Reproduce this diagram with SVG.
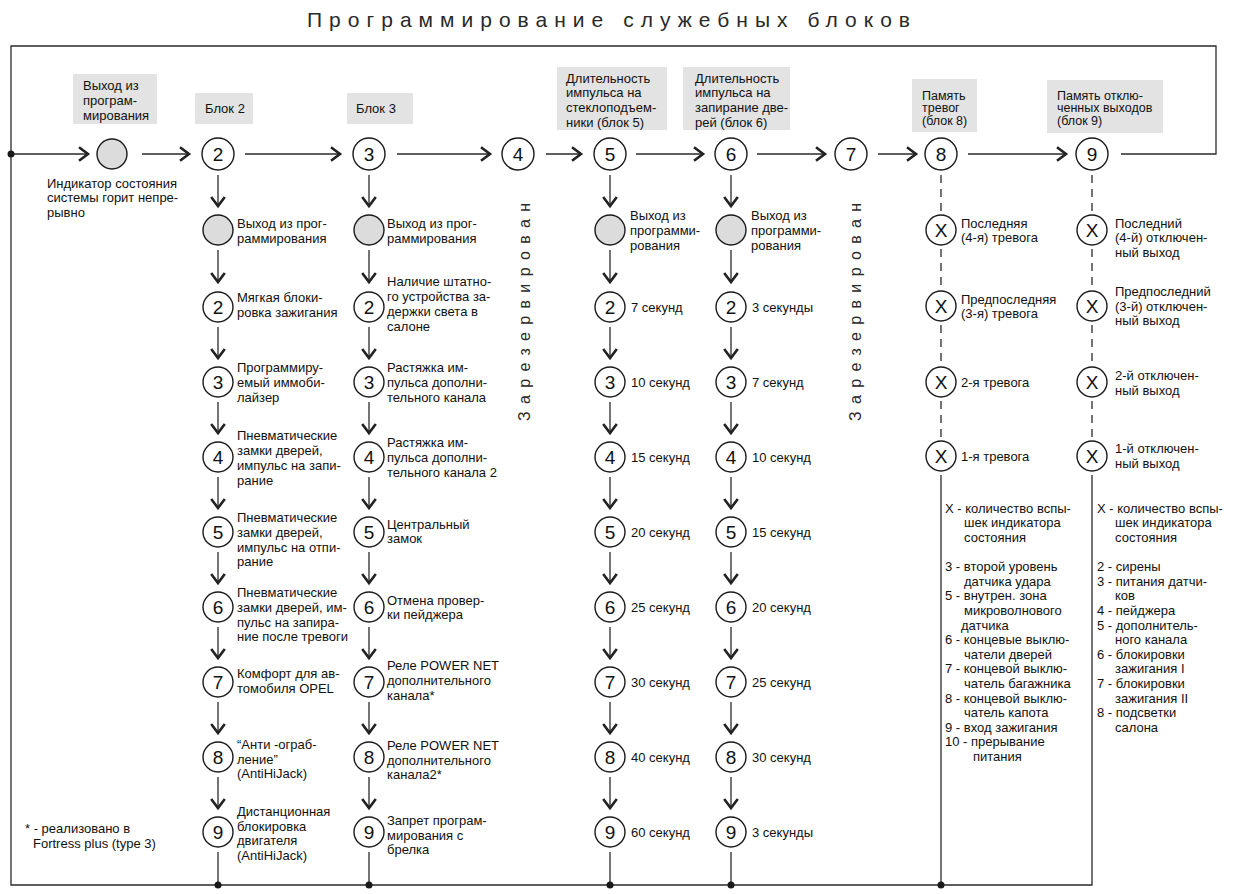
<svg xmlns="http://www.w3.org/2000/svg" width="1250" height="894" viewBox="0 0 1250 894">
<style>
text{font-family:"Liberation Sans",Arial,sans-serif;fill:#111}
.t{font-size:13px}
.s{font-size:12.5px}
.n{font-size:19px;text-anchor:middle}
.title{font-size:21px;fill:#2a2a2a}
.res{font-size:16px;text-anchor:middle;fill:#2a2a2a}
.ln{stroke:#2a2a2a;stroke-width:1.3;fill:none}
.ar{stroke:#2a2a2a;stroke-width:1.3;fill:none;marker-end:url(#arr)}
.ds{stroke:#2a2a2a;stroke-width:1.3;fill:none;stroke-dasharray:8 6}
.c{fill:#fff;stroke:#1a1a1a;stroke-width:1.4}
.g{fill:#dcdcdc;stroke:#1a1a1a;stroke-width:1.4}
.box{fill:#e3e3e3}
.dot{fill:#1a1a1a}
</style>
<defs>
<marker id="arr" markerUnits="userSpaceOnUse" markerWidth="24" markerHeight="24" viewBox="-12 -12 24 24" refX="0" refY="0" orient="auto" overflow="visible">
<path d="M-9,-6.8 L0,0 L-9,6.8" fill="none" stroke="#222" stroke-width="2.6"/>
</marker>
</defs>
<rect width="1250" height="894" fill="#fff"/>
<text class="title" x="307" y="27" textLength="603" lengthAdjust="spacing">Программирование служебных блоков</text>

<g id="connectors">
<polyline class="ln" points="1121,154 1216,154 1216,46 11,46 11,885 1092,885 1092,475"/>
<line class="ar" x1="11" y1="154" x2="88" y2="154"/>
<line class="ar" x1="142" y1="154" x2="189" y2="154"/>
<line class="ar" x1="245" y1="154" x2="340" y2="154"/>
<line class="ar" x1="397" y1="154" x2="490" y2="154"/>
<line class="ar" x1="546" y1="154" x2="581" y2="154"/>
<line class="ar" x1="636" y1="154" x2="703" y2="154"/>
<line class="ar" x1="757" y1="154" x2="825" y2="154"/>
<line class="ar" x1="878" y1="154" x2="916" y2="154"/>
<line class="ar" x1="968" y1="154" x2="1066" y2="154"/>
<circle class="dot" cx="11" cy="154" r="3.5"/>
<!-- column 2 -->
<line class="ar" x1="218" y1="175" x2="218" y2="206"/>
<line class="ar" x1="218" y1="250" x2="218" y2="282"/>
<line class="ar" x1="218" y1="327" x2="218" y2="358"/>
<line class="ar" x1="218" y1="402" x2="218" y2="433"/>
<line class="ar" x1="218" y1="477" x2="218" y2="508"/>
<line class="ar" x1="218" y1="552" x2="218" y2="583"/>
<line class="ar" x1="218" y1="627" x2="218" y2="658"/>
<line class="ar" x1="218" y1="702" x2="218" y2="733"/>
<line class="ar" x1="218" y1="777" x2="218" y2="808"/>
<line class="ln" x1="218" y1="852" x2="218" y2="885"/>
<circle class="dot" cx="218" cy="885" r="3.5"/>
<!-- column 3 -->
<line class="ar" x1="369" y1="175" x2="369" y2="206"/>
<line class="ar" x1="369" y1="250" x2="369" y2="282"/>
<line class="ar" x1="369" y1="327" x2="369" y2="358"/>
<line class="ar" x1="369" y1="402" x2="369" y2="433"/>
<line class="ar" x1="369" y1="477" x2="369" y2="508"/>
<line class="ar" x1="369" y1="552" x2="369" y2="583"/>
<line class="ar" x1="369" y1="627" x2="369" y2="658"/>
<line class="ar" x1="369" y1="702" x2="369" y2="733"/>
<line class="ar" x1="369" y1="777" x2="369" y2="808"/>
<line class="ln" x1="369" y1="852" x2="369" y2="885"/>
<circle class="dot" cx="369" cy="885" r="3.5"/>
<!-- column 5 -->
<line class="ar" x1="610" y1="175" x2="610" y2="206"/>
<line class="ar" x1="610" y1="250" x2="610" y2="282"/>
<line class="ar" x1="610" y1="327" x2="610" y2="358"/>
<line class="ar" x1="610" y1="402" x2="610" y2="433"/>
<line class="ar" x1="610" y1="477" x2="610" y2="508"/>
<line class="ar" x1="610" y1="552" x2="610" y2="583"/>
<line class="ar" x1="610" y1="627" x2="610" y2="658"/>
<line class="ar" x1="610" y1="702" x2="610" y2="733"/>
<line class="ar" x1="610" y1="777" x2="610" y2="808"/>
<line class="ln" x1="610" y1="852" x2="610" y2="885"/>
<circle class="dot" cx="610" cy="885" r="3.5"/>
<!-- column 6 -->
<line class="ar" x1="731" y1="175" x2="731" y2="206"/>
<line class="ar" x1="731" y1="250" x2="731" y2="282"/>
<line class="ar" x1="731" y1="327" x2="731" y2="358"/>
<line class="ar" x1="731" y1="402" x2="731" y2="433"/>
<line class="ar" x1="731" y1="477" x2="731" y2="508"/>
<line class="ar" x1="731" y1="552" x2="731" y2="583"/>
<line class="ar" x1="731" y1="627" x2="731" y2="658"/>
<line class="ar" x1="731" y1="702" x2="731" y2="733"/>
<line class="ar" x1="731" y1="777" x2="731" y2="808"/>
<line class="ln" x1="731" y1="852" x2="731" y2="885"/>
<circle class="dot" cx="731" cy="885" r="3.5"/>
<!-- column 8 -->
<line class="ds" x1="941" y1="175" x2="941" y2="212"/>
<line class="ds" x1="941" y1="249" x2="941" y2="288"/>
<line class="ds" x1="941" y1="325" x2="941" y2="364"/>
<line class="ds" x1="941" y1="401" x2="941" y2="438"/>
<line class="ln" x1="941" y1="475" x2="941" y2="885"/>
<circle class="dot" cx="941" cy="885" r="3.5"/>
<!-- column 9 -->
<line class="ds" x1="1092" y1="175" x2="1092" y2="212"/>
<line class="ds" x1="1092" y1="249" x2="1092" y2="288"/>
<line class="ds" x1="1092" y1="325" x2="1092" y2="364"/>
<line class="ds" x1="1092" y1="401" x2="1092" y2="438"/>
</g>

<g id="label-exit">
<rect class="box" x="73" y="74" width="84" height="50"/>
<text class="t" x="83" y="89.5"><tspan x="83">Выход из</tspan><tspan x="83" dy="15">програм-</tspan><tspan x="83" dy="15">мирования</tspan></text>
</g>
<g id="label-blok2"><rect class="box" x="195" y="93" width="58" height="31"/><text class="t" x="205" y="112.5">Блок 2</text></g>
<g id="label-blok3"><rect class="box" x="347" y="93" width="66" height="31"/><text class="t" x="356" y="112.5">Блок 3</text></g>
<g id="label-blok5">
<rect class="box" x="557" y="67" width="110" height="63"/>
<text class="t" x="566" y="82.5"><tspan x="566">Длительность</tspan><tspan x="566" dy="14.8">импульса на</tspan><tspan x="566" dy="14.8">стеклоподъем-</tspan><tspan x="566" dy="14.8">ники (блок 5)</tspan></text>
</g>
<g id="label-blok6">
<rect class="box" x="683" y="67" width="107" height="63"/>
<text class="t" x="695" y="82.5"><tspan x="695">Длительность</tspan><tspan x="695" dy="14.8">импульса на</tspan><tspan x="695" dy="14.8">запирание две-</tspan><tspan x="695" dy="14.8">рей (блок 6)</tspan></text>
</g>
<g id="label-blok8">
<rect class="box" x="912" y="79" width="65" height="53"/>
<text class="s" x="922" y="99.5"><tspan x="922">Память</tspan><tspan x="922" dy="12.5">тревог</tspan><tspan x="922" dy="12.5">(блок 8)</tspan></text>
</g>
<g id="label-blok9">
<rect class="box" x="1047" y="80" width="116" height="53"/>
<text class="s" x="1057" y="99.5"><tspan x="1057">Память  отклю-</tspan><tspan x="1057" dy="12.5">ченных  выходов</tspan><tspan x="1057" dy="12.5">(блок 9)</tspan></text>
</g>

<g id="node-start">
<circle class="g" cx="112" cy="154" r="15"/>
<text class="t" x="47" y="187.5"><tspan x="47">Индикатор состояния</tspan><tspan x="47" dy="14.5">системы горит непре-</tspan><tspan x="47" dy="14.5">рывно</tspan></text>
</g>
<g id="node-m2"><circle class="c" cx="218" cy="154" r="16"/><text class="n" x="218" y="161">2</text></g>
<g id="node-m3"><circle class="c" cx="369" cy="154" r="16"/><text class="n" x="369" y="161">3</text></g>
<g id="node-m4"><circle class="c" cx="518" cy="154" r="16"/><text class="n" x="518" y="161">4</text></g>
<g id="node-m5"><circle class="c" cx="610" cy="154" r="16"/><text class="n" x="610" y="161">5</text></g>
<g id="node-m6"><circle class="c" cx="731" cy="154" r="16"/><text class="n" x="731" y="161">6</text></g>
<g id="node-m7"><circle class="c" cx="851" cy="154" r="16"/><text class="n" x="851" y="161">7</text></g>
<g id="node-m8"><circle class="c" cx="941" cy="154" r="16"/><text class="n" x="941" y="161">8</text></g>
<g id="node-m9"><circle class="c" cx="1092" cy="154" r="16"/><text class="n" x="1092" y="161">9</text></g>

<g id="reserved4"><text class="res" transform="translate(530,312) rotate(-90)" textLength="218" lengthAdjust="spacing">Зарезервирован</text></g>
<g id="reserved7"><text class="res" transform="translate(861,312) rotate(-90)" textLength="218" lengthAdjust="spacing">Зарезервирован</text></g>

<!-- column 2 nodes -->
<g id="c2-exit"><circle class="g" cx="218" cy="230" r="15"/><text class="t" y="227.5"><tspan x="237">Выход из прог-</tspan><tspan x="237" dy="15">раммирования</tspan></text></g>
<g id="c2-2"><circle class="c" cx="218" cy="307" r="15"/><text class="n" x="218" y="314">2</text><text class="t" y="301.5"><tspan x="237">Мягкая блоки-</tspan><tspan x="237" dy="15">ровка зажигания</tspan></text></g>
<g id="c2-3"><circle class="c" cx="218" cy="382" r="15"/><text class="n" x="218" y="389">3</text><text class="t" y="371.5"><tspan x="237">Программиру-</tspan><tspan x="237" dy="15">емый иммоби-</tspan><tspan x="237" dy="15">лайзер</tspan></text></g>
<g id="c2-4"><circle class="c" cx="218" cy="457" r="15"/><text class="n" x="218" y="464">4</text><text class="t" y="439.5"><tspan x="237">Пневматические</tspan><tspan x="237" dy="15">замки дверей,</tspan><tspan x="237" dy="15">импульс на запи-</tspan><tspan x="237" dy="15">рание</tspan></text></g>
<g id="c2-5"><circle class="c" cx="218" cy="532" r="15"/><text class="n" x="218" y="539">5</text><text class="t" y="521.5"><tspan x="237">Пневматические</tspan><tspan x="237" dy="15">замки дверей,</tspan><tspan x="237" dy="15">импульс на отпи-</tspan><tspan x="237" dy="14.5">рание</tspan></text></g>
<g id="c2-6"><circle class="c" cx="218" cy="607" r="15"/><text class="n" x="218" y="614">6</text><text class="t" y="596.5"><tspan x="237">Пневматические</tspan><tspan x="237" dy="15">замки дверей, им-</tspan><tspan x="237" dy="15">пульс на запира-</tspan><tspan x="237" dy="14.5">ние после тревоги</tspan></text></g>
<g id="c2-7"><circle class="c" cx="218" cy="682" r="15"/><text class="n" x="218" y="689">7</text><text class="t" y="678"><tspan x="237">Комфорт для ав-</tspan><tspan x="237" dy="15">томобиля OPEL</tspan></text></g>
<g id="c2-8"><circle class="c" cx="218" cy="757" r="15"/><text class="n" x="218" y="764">8</text><text class="t" y="749"><tspan x="237">“Анти -ограб-</tspan><tspan x="237" dy="14.5">ление”</tspan><tspan x="237" dy="14.5">(AntiHiJack)</tspan></text></g>
<g id="c2-9"><circle class="c" cx="218" cy="832" r="15"/><text class="n" x="218" y="839">9</text><text class="t" y="816"><tspan x="237">Дистанционная</tspan><tspan x="237" dy="14.5">блокировка</tspan><tspan x="237" dy="14.5">двигателя</tspan><tspan x="237" dy="14.5">(AntiHiJack)</tspan></text></g>

<!-- column 3 nodes -->
<g id="c3-exit"><circle class="g" cx="369" cy="230" r="15"/><text class="t" y="227.5"><tspan x="387">Выход из прог-</tspan><tspan x="387" dy="15">раммирования</tspan></text></g>
<g id="c3-2"><circle class="c" cx="369" cy="307" r="15"/><text class="n" x="369" y="314">2</text><text class="t" y="286"><tspan x="387">Наличие штатно-</tspan><tspan x="387" dy="15">го устройства за-</tspan><tspan x="387" dy="15">держки света в</tspan><tspan x="387" dy="15">салоне</tspan></text></g>
<g id="c3-3"><circle class="c" cx="369" cy="382" r="15"/><text class="n" x="369" y="389">3</text><text class="t" y="371.5"><tspan x="387">Растяжка им-</tspan><tspan x="387" dy="15">пульса дополни-</tspan><tspan x="387" dy="15">тельного канала</tspan></text></g>
<g id="c3-4"><circle class="c" cx="369" cy="457" r="15"/><text class="n" x="369" y="464">4</text><text class="t" y="446.5"><tspan x="387">Растяжка им-</tspan><tspan x="387" dy="15">пульса дополни-</tspan><tspan x="387" dy="15">тельного канала 2</tspan></text></g>
<g id="c3-5"><circle class="c" cx="369" cy="532" r="15"/><text class="n" x="369" y="539">5</text><text class="t" y="528.5"><tspan x="387">Центральный</tspan><tspan x="387" dy="14.5">замок</tspan></text></g>
<g id="c3-6"><circle class="c" cx="369" cy="607" r="15"/><text class="n" x="369" y="614">6</text><text class="t" y="604.5"><tspan x="387">Отмена провер-</tspan><tspan x="387" dy="14.5">ки пейджера</tspan></text></g>
<g id="c3-7"><circle class="c" cx="369" cy="682" r="15"/><text class="n" x="369" y="689">7</text><text class="t" y="669.5"><tspan x="387">Реле POWER NET</tspan><tspan x="387" dy="15">дополнительного</tspan><tspan x="387" dy="15">канала*</tspan></text></g>
<g id="c3-8"><circle class="c" cx="369" cy="757" r="15"/><text class="n" x="369" y="764">8</text><text class="t" y="749.5"><tspan x="387">Реле POWER NET</tspan><tspan x="387" dy="15">дополнительного</tspan><tspan x="387" dy="14.5">канала2*</tspan></text></g>
<g id="c3-9"><circle class="c" cx="369" cy="832" r="15"/><text class="n" x="369" y="839">9</text><text class="t" y="824.5"><tspan x="387">Запрет програм-</tspan><tspan x="387" dy="15">мирования с</tspan><tspan x="387" dy="14.5">брелка</tspan></text></g>

<!-- column 5 nodes -->
<g id="c5-exit"><circle class="g" cx="610" cy="230" r="15"/><text class="t" y="219.5"><tspan x="630">Выход из</tspan><tspan x="630" dy="15">программи-</tspan><tspan x="630" dy="15">рования</tspan></text></g>
<g id="c5-2"><circle class="c" cx="610" cy="307" r="15"/><text class="n" x="610" y="314">2</text><text class="t" x="631" y="311.5">7 секунд</text></g>
<g id="c5-3"><circle class="c" cx="610" cy="382" r="15"/><text class="n" x="610" y="389">3</text><text class="t" x="631" y="386.5">10 секунд</text></g>
<g id="c5-4"><circle class="c" cx="610" cy="457" r="15"/><text class="n" x="610" y="464">4</text><text class="t" x="631" y="461.5">15 секунд</text></g>
<g id="c5-5"><circle class="c" cx="610" cy="532" r="15"/><text class="n" x="610" y="539">5</text><text class="t" x="631" y="536.5">20 секунд</text></g>
<g id="c5-6"><circle class="c" cx="610" cy="607" r="15"/><text class="n" x="610" y="614">6</text><text class="t" x="631" y="611.5">25 секунд</text></g>
<g id="c5-7"><circle class="c" cx="610" cy="682" r="15"/><text class="n" x="610" y="689">7</text><text class="t" x="631" y="686.5">30 секунд</text></g>
<g id="c5-8"><circle class="c" cx="610" cy="757" r="15"/><text class="n" x="610" y="764">8</text><text class="t" x="631" y="761.5">40 секунд</text></g>
<g id="c5-9"><circle class="c" cx="610" cy="832" r="15"/><text class="n" x="610" y="839">9</text><text class="t" x="631" y="836.5">60 секунд</text></g>

<!-- column 6 nodes -->
<g id="c6-exit"><circle class="g" cx="731" cy="230" r="15"/><text class="t" y="219.5"><tspan x="751">Выход из</tspan><tspan x="751" dy="15">программи-</tspan><tspan x="751" dy="15">рования</tspan></text></g>
<g id="c6-2"><circle class="c" cx="731" cy="307" r="15"/><text class="n" x="731" y="314">2</text><text class="t" x="752" y="311.5">3 секунды</text></g>
<g id="c6-3"><circle class="c" cx="731" cy="382" r="15"/><text class="n" x="731" y="389">3</text><text class="t" x="752" y="386.5">7 секунд</text></g>
<g id="c6-4"><circle class="c" cx="731" cy="457" r="15"/><text class="n" x="731" y="464">4</text><text class="t" x="752" y="461.5">10 секунд</text></g>
<g id="c6-5"><circle class="c" cx="731" cy="532" r="15"/><text class="n" x="731" y="539">5</text><text class="t" x="752" y="536.5">15 секунд</text></g>
<g id="c6-6"><circle class="c" cx="731" cy="607" r="15"/><text class="n" x="731" y="614">6</text><text class="t" x="752" y="611.5">20 секунд</text></g>
<g id="c6-7"><circle class="c" cx="731" cy="682" r="15"/><text class="n" x="731" y="689">7</text><text class="t" x="752" y="686.5">25 секунд</text></g>
<g id="c6-8"><circle class="c" cx="731" cy="757" r="15"/><text class="n" x="731" y="764">8</text><text class="t" x="752" y="761.5">30 секунд</text></g>
<g id="c6-9"><circle class="c" cx="731" cy="832" r="15"/><text class="n" x="731" y="839">9</text><text class="t" x="752" y="836.5">3 секунды</text></g>

<!-- column 8 nodes -->
<g id="c8-x1"><circle class="c" cx="941" cy="230" r="15"/><text class="n" x="941" y="237">X</text><text class="t" y="227.5"><tspan x="961">Последняя</tspan><tspan x="961" dy="14.5">(4-я) тревога</tspan></text></g>
<g id="c8-x2"><circle class="c" cx="941" cy="306" r="15"/><text class="n" x="941" y="313">X</text><text class="t" y="303.5"><tspan x="961">Предпоследняя</tspan><tspan x="961" dy="14.5">(3-я) тревога</tspan></text></g>
<g id="c8-x3"><circle class="c" cx="941" cy="382" r="15"/><text class="n" x="941" y="389">X</text><text class="t" x="961" y="386.5">2-я тревога</text></g>
<g id="c8-x4"><circle class="c" cx="941" cy="456" r="15"/><text class="n" x="941" y="463">X</text><text class="t" x="961" y="460.5">1-я тревога</text></g>

<!-- column 9 nodes -->
<g id="c9-x1"><circle class="c" cx="1092" cy="230" r="15"/><text class="n" x="1092" y="237">X</text><text class="t" y="227.5"><tspan x="1115">Последний</tspan><tspan x="1115" dy="14.5">(4-й) отключен-</tspan><tspan x="1115" dy="14.5">ный выход</tspan></text></g>
<g id="c9-x2"><circle class="c" cx="1092" cy="306" r="15"/><text class="n" x="1092" y="313">X</text><text class="t" y="296"><tspan x="1115">Предпоследний</tspan><tspan x="1115" dy="14.5">(3-й) отключен-</tspan><tspan x="1115" dy="14.5">ный выход</tspan></text></g>
<g id="c9-x3"><circle class="c" cx="1092" cy="382" r="15"/><text class="n" x="1092" y="389">X</text><text class="t" y="379.5"><tspan x="1115">2-й отключен-</tspan><tspan x="1115" dy="15">ный выход</tspan></text></g>
<g id="c9-x4"><circle class="c" cx="1092" cy="456" r="15"/><text class="n" x="1092" y="463">X</text><text class="t" y="452.5"><tspan x="1115">1-й отключен-</tspan><tspan x="1115" dy="15">ный выход</tspan></text></g>

<g id="legend8">
<text class="t" y="512.5"><tspan x="945">X - количество вспы-</tspan><tspan x="964" dy="14.6">шек индикатора</tspan><tspan x="964" dy="14.6">состояния</tspan><tspan x="945" dy="29.5">3 - второй уровень</tspan><tspan x="964" dy="14.6">датчика удара</tspan><tspan x="945" dy="14.6">5 - внутрен. зона</tspan><tspan x="964" dy="14.6">микроволнового</tspan><tspan x="961" dy="14.6">датчика</tspan><tspan x="945" dy="14.6">6 - концевые выклю-</tspan><tspan x="964" dy="14.6">чатели дверей</tspan><tspan x="945" dy="14.6">7 - концевой выклю-</tspan><tspan x="964" dy="14.6">чатель багажника</tspan><tspan x="945" dy="14.6">8 - концевой выклю-</tspan><tspan x="964" dy="14.6">чатель  капота</tspan><tspan x="945" dy="14.6">9 - вход зажигания</tspan><tspan x="945" dy="14.6">10 - прерывание</tspan><tspan x="973" dy="14.6">питания</tspan></text>
</g>
<g id="legend9">
<text class="t" y="512.5"><tspan x="1097">X - количество вспы-</tspan><tspan x="1115" dy="14.6">шек индикатора</tspan><tspan x="1115" dy="14.6">состояния</tspan><tspan x="1097" dy="29.5">2 - сирены</tspan><tspan x="1097" dy="14.6">3 - питания датчи-</tspan><tspan x="1115" dy="14.6">ков</tspan><tspan x="1097" dy="14.6">4 - пейджера</tspan><tspan x="1097" dy="14.6">5 - дополнитель-</tspan><tspan x="1115" dy="14.6">ного канала</tspan><tspan x="1097" dy="14.6">6 - блокировки</tspan><tspan x="1115" dy="14.6">зажигания I</tspan><tspan x="1097" dy="14.6">7 - блокировки</tspan><tspan x="1115" dy="14.6">зажигания II</tspan><tspan x="1097" dy="14.6">8 - подсветки</tspan><tspan x="1115" dy="14.6">салона</tspan></text>
</g>

<g id="footnote">
<text class="t" y="832.5"><tspan x="25">* - реализовано в</tspan><tspan x="33" dy="15">Fortress plus (type 3)</tspan></text>
</g>
</svg>
